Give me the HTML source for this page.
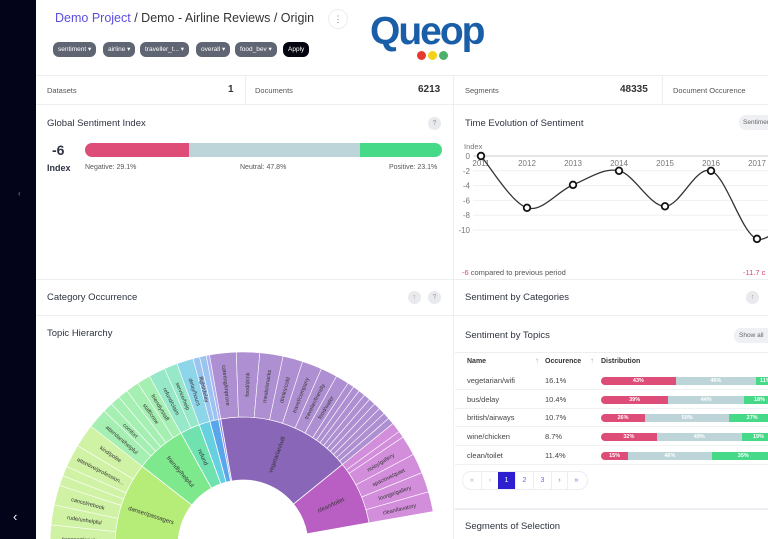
<!DOCTYPE html>
<html><head><meta charset="utf-8">
<style>
*{box-sizing:border-box;margin:0;padding:0}
html{overflow:hidden}
body{width:768px;height:539px;overflow:hidden;background:#fff;font-family:"Liberation Sans",sans-serif;color:#2d3340;position:relative}
.abs{position:absolute}
.sidebar{left:0;top:0;width:36px;height:539px;background:#03031a}
.chip{position:absolute;top:42px;height:15px;border-radius:6px;background:#5f6572;color:#fff;font-size:6.5px;line-height:15px;padding:0 5px;white-space:nowrap}
.lbl{font-size:7.5px;color:#555}
.val{font-size:10px;color:#333;font-weight:bold}
.title{font-size:9.5px;color:#2d3340}
.hline{position:absolute;height:1px;background:#eceef1}
.vline{position:absolute;width:1px;background:#eceef1}
.circ{position:absolute;width:13px;height:13px;border-radius:50%;background:#e8eaee;color:#999;font-size:7px;text-align:center;line-height:13px}
</style></head><body>
<div class="abs sidebar">
  <div class="abs" style="left:18px;top:189px;color:#888;font-size:8px">‹</div>
  <div class="abs" style="left:13px;top:509px;color:#fff;font-size:13px">‹</div>
</div>

<div class="abs" style="left:55px;top:11px;font-size:12.5px;white-space:nowrap"><span style="color:#5a4fe0">Demo Project</span> <span style="color:#333">/ Demo - Airline Reviews / Origin</span></div>
<div class="abs" style="left:328px;top:9px;width:20px;height:20px;border-radius:50%;border:1px solid #eee;font-size:9px;color:#777;text-align:center;line-height:19px">⋮</div>

<div class="chip" style="left:53px">sentiment ▾</div>
<div class="chip" style="left:103px">airline ▾</div>
<div class="chip" style="left:140px">traveller_t... ▾</div>
<div class="chip" style="left:196px">overall ▾</div>
<div class="chip" style="left:235px">food_bev ▾</div>
<div class="chip" style="left:283px;background:#050510">Apply</div>

<div class="abs" style="left:370px;top:10px;width:125px;height:55px">
  <div class="abs" style="left:0;top:0;font-size:39px;font-weight:bold;color:#1a5ea8;letter-spacing:-2px;line-height:44px">Queop</div>
  <div class="abs" style="left:47px;top:41px;width:9px;height:9px;border-radius:50%;background:#e8392f"></div>
  <div class="abs" style="left:58px;top:41px;width:9px;height:9px;border-radius:50%;background:#f4d21a"></div>
  <div class="abs" style="left:69px;top:41px;width:9px;height:9px;border-radius:50%;background:#4caf6a"></div>
</div>

<div class="hline" style="left:36px;top:75px;width:732px"></div>
<div class="hline" style="left:36px;top:104px;width:732px"></div>
<div class="vline" style="left:245px;top:76px;height:28px"></div>
<div class="vline" style="left:453px;top:76px;height:463px"></div>
<div class="vline" style="left:662px;top:76px;height:28px"></div>

<div class="abs lbl" style="left:47px;top:86px">Datasets</div>
<div class="abs val" style="left:228px;top:84px">1</div>
<div class="abs lbl" style="left:255px;top:86px">Documents</div>
<div class="abs val" style="left:418px;top:84px">6213</div>
<div class="abs lbl" style="left:465px;top:86px">Segments</div>
<div class="abs val" style="left:620px;top:84px">48335</div>
<div class="abs lbl" style="left:673px;top:86px;white-space:nowrap">Document Occurence</div>

<div class="abs title" style="left:47px;top:118px">Global Sentiment Index</div>
<div class="circ" style="left:428px;top:117px">?</div>
<div class="abs" style="left:52px;top:142px;font-size:14px;font-weight:bold">-6</div>
<div class="abs" style="left:47px;top:163px;font-size:9px;font-weight:bold">Index</div>
<div class="abs" style="left:85px;top:143px;width:357px;height:14px;border-radius:7px;overflow:hidden;display:flex">
  <div style="width:29.1%;background:#de4c78"></div>
  <div style="width:47.8%;background:#bdd5d8"></div>
  <div style="width:23.1%;background:#46da88"></div>
</div>
<div class="abs" style="left:85px;top:164px;font-size:7px;color:#555">Negative: 29.1%</div>
<div class="abs" style="left:240px;top:164px;font-size:7px;color:#555">Neutral: 47.8%</div>
<div class="abs" style="left:389px;top:164px;font-size:7px;color:#555">Positive: 23.1%</div>

<div class="abs title" style="left:465px;top:118px">Time Evolution of Sentiment</div>
<div class="abs" style="left:739px;top:115px;width:40px;height:15px;border-radius:7px;background:#eef0f3;font-size:6.5px;color:#666;line-height:15px;padding-left:4px">Sentiment</div>
<svg class="abs" style="left:453px;top:135px" width="315" height="143" id="tchart"></svg>

<div class="hline" style="left:36px;top:279px;width:732px"></div>
<div class="hline" style="left:36px;top:315px;width:732px"></div>
<div class="abs title" style="left:47px;top:292px">Category Occurrence</div>
<div class="circ" style="left:408px;top:291px">↑</div>
<div class="circ" style="left:428px;top:291px">?</div>
<div class="abs title" style="left:465px;top:292px">Sentiment by Categories</div>
<div class="circ" style="left:746px;top:291px">↑</div>
<div class="abs title" style="left:47px;top:328px">Topic Hierarchy</div>
<div class="abs title" style="left:465px;top:330px">Sentiment by Topics</div>
<div class="abs" style="left:734px;top:328px;width:34px;height:15px;border-radius:7px 0 0 7px;background:#eef0f3;font-size:6.5px;color:#666;line-height:15px;padding-left:5px;overflow:hidden;white-space:nowrap">Show all</div>

<svg class="abs" style="left:36px;top:340px" width="417" height="199" id="sun"></svg>

<div class="hline" style="left:455px;top:352px;width:313px"></div>
<div class="abs" style="left:467px;top:358px;font-size:7px;font-weight:bold;color:#333">Name</div>
<div class="abs" style="left:535px;top:356px;font-size:8px;color:#aab">↑</div>
<div class="abs" style="left:545px;top:358px;font-size:7px;font-weight:bold;color:#333">Occurence</div>
<div class="abs" style="left:590px;top:356px;font-size:8px;color:#aab">↑</div>
<div class="abs" style="left:601px;top:358px;font-size:7px;font-weight:bold;color:#333">Distribution</div>
<div id="rows"></div>

<div class="abs" style="left:462px;top:471px;height:19px;width:126px;border:1px solid #eceef1;border-radius:9px;display:flex;font-size:7px;color:#6a6ae0;line-height:17px;overflow:hidden">
  <div style="width:18px;text-align:center;color:#aaa">«</div>
  <div style="width:17px;text-align:center;color:#aaa;border-left:1px solid #eee">‹</div>
  <div style="width:17px;text-align:center;background:#2d1fd0;color:#fff">1</div>
  <div style="width:18px;text-align:center;border-left:1px solid #eee">2</div>
  <div style="width:18px;text-align:center;border-left:1px solid #eee">3</div>
  <div style="width:16px;text-align:center;border-left:1px solid #eee">›</div>
  <div style="width:18px;text-align:center;border-left:1px solid #eee">»</div>
</div>
<div class="hline" style="left:455px;top:508px;width:313px;height:2px"></div>
<div class="abs title" style="left:465px;top:521px">Segments of Selection</div>

<script>
var NS="http://www.w3.org/2000/svg";
function mk(tag,attrs,parent){var e=document.createElementNS(NS,tag);for(var k in attrs)e.setAttribute(k,attrs[k]);parent.appendChild(e);return e;}

var years=["2011","2012","2013","2014","2015","2016","2017","2018"];
var sentIndex=[0,-7,-3.9,-2,-6.8,-2,-11.2,-6];
var yTicks=[0,-2,-4,-6,-8,-10];
var ts=document.getElementById('tchart');
function tx(i){return 28+i*46;}
function ty(v){return 21-v*7.4;}
yTicks.forEach(function(t){
  var l=mk('line',{x1:20,x2:315,y1:ty(t),y2:ty(t),stroke:t==0?'#ccc':'#f0f0f0','stroke-width':1},ts);
  
  
  var tt=mk('text',{x:17,y:ty(t)+3,'font-size':8,'text-anchor':'end',fill:'#777'},ts);tt.textContent=t;
  
  
});
var it=mk('text',{x:11,y:14,'font-size':7.5,fill:'#777'},ts);it.textContent='Index';


years.forEach(function(y,i){
  var t=mk('text',{x:tx(i),y:31,'font-size':8,'text-anchor':'middle',fill:'#777'},ts);t.textContent=y;
  
  
});
var pts=sentIndex.map(function(v,i){return [tx(i),ty(v)];});
var d='M'+pts[0][0]+','+pts[0][1];
for(var i=0;i<pts.length-1;i++){
  var p0=pts[i-1]||pts[i],p1=pts[i],p2=pts[i+1],p3=pts[i+2]||p2;
  d+=' C'+(p1[0]+(p2[0]-p0[0])/6)+','+(p1[1]+(p2[1]-p0[1])/6)+' '+(p2[0]-(p3[0]-p1[0])/6)+','+(p2[1]-(p3[1]-p1[1])/6)+' '+p2[0]+','+p2[1];
}
var ln=mk('path',{d:d,fill:'none',stroke:'#333','stroke-width':1.3},ts);


pts.forEach(function(p){
  var c=mk('circle',{cx:p[0],cy:p[1],r:3.3,fill:'#fff',stroke:'#111','stroke-width':1.8},ts);
  
  
});
var f1=mk('text',{x:9,y:140,'font-size':7.5,fill:'#555'},ts);
f1.innerHTML='<tspan fill="#e04070">-6</tspan> compared to previous period';


var f2=mk('text',{x:290,y:140,'font-size':7.5,fill:'#e04070'},ts);f2.textContent='-11.7 c';



var innerNames=["uncomfortable","danser/passagers","friendly/helpful","refund","customer/service","delay/wifi","other","vegetarian/wifi","clean/toilet"];
var innerSpans=[8,40,23,9,5,4,1,61,29];
var innerColors=["#d3e07a","#b6ec78","#7ee98c","#6fe2b0","#66cfe0","#5aa6ea","#8a8af2","#8966b8","#b95fc4"];
var outerColors=["#dbe89c","#d0f2a4","#a6efb2","#97e8c8","#8dd6ea","#9cc4f0","#b0b0f5","#ae90d2","#d28edb"];
var outerSpans=[[3,2,3],[8,6,6,3,3,7,7],[6,3,3,3,4,4],[5,4],[5],[2,2],[1],[8,7,7,6,6,5,4,2,2,2,2,2,2,2,2,2],[3,2,6,6,6,6]];
var outerNames=[["uncomfortable/ennui","",""],["passport/apology","rude/unhelpful","cancel/rebook","","","attentive/profession...","kind/polite"],["attendant/helpful","comfort","","","staff/crew","friendly/staff"],["refund/claim","service/help"],["delay/hours"],["flight/delay",""],[""],["catering/improve","food/drink","meals/snacks","drinks/cold","travel/company","traveller/friendly","food/water","","","","","","","","",""],["","","noisy/gallery","spacious/quiet","lounge/gallery","clean/lavatory"]];
var sun=document.getElementById('sun');
var CX=207,CY=205,R0=65,R1=128,R2=193;
function pol(r,a){var rad=a*Math.PI/180;return [CX+r*Math.cos(rad),CY-r*Math.sin(rad)];}
function arc(r1,r2,a1,a2){
  var p1=pol(r2,a1),p2=pol(r2,a2),p3=pol(r1,a2),p4=pol(r1,a1);
  var lg=(a1-a2)>180?1:0;
  return 'M'+p1+' A'+r2+','+r2+' 0 '+lg+' 1 '+p2+' L'+p3+' A'+r1+','+r1+' 0 '+lg+' 0 '+p4+'Z';
}
function label(txt,r,amid,size,name){
  if(!txt)return;
  var p=pol(r,amid);var rot=-amid;
  if(amid>90)rot=180-amid;
  var t=mk('text',{x:p[0],y:p[1]+2,'font-size':size,'text-anchor':'middle',fill:'#333',transform:'rotate('+rot+' '+p[0]+' '+p[1]+')'},sun);
  t.textContent=txt;
  
  
}
var a=190;
innerSpans.forEach(function(s,i){
  var a1=a,a2=a-s;
  var p=mk('path',{d:arc(R0,R1,a1,a2),fill:innerColors[i],stroke:'#fff','stroke-width':0.8},sun);
  
  
  if(s>=9)label(innerNames[i],(R0+R1)/2,(a1+a2)/2,6,'topic-label');
  var b=a1;
  var tot=outerSpans[i].reduce(function(x,y){return x+y;},0);
  outerSpans[i].forEach(function(os,j){
    var b2=b-os*(a1-a2)/tot;
    var q=mk('path',{d:arc(R1,R2,b,b2),fill:outerColors[i],stroke:'#fff','stroke-width':0.6},sun);
    
    
    label(outerNames[i][j],(R1+R2)/2,(b+b2)/2,5.5,'subtopic-label');
    b=b2;
  });
  a=a2;
});
mk('circle',{cx:CX,cy:CY,r:R0-0.5,fill:'#fff'},sun);

var topicNames=["vegetarian/wifi","bus/delay","british/airways","wine/chicken","clean/toilet"];
var topicOcc=["16.1%","10.4%","10.7%","8.7%","11.4%"];
var negVals=[43,39,26,32,15];
var neuVals=[46,44,50,49,46];
var posVals=[11,18,27,19,35];
var rows=document.getElementById('rows');
topicNames.forEach(function(n,i){
  var y=372+i*18.7;
  var r=document.createElement('div');
  r.className='abs';r.style.cssText='left:455px;top:'+y+'px;width:313px;height:18px;border-bottom:1px solid #f0f1f3;overflow:hidden';
  
  
  r.innerHTML='<div class="abs" style="left:12px;top:4px;font-size:7.5px;color:#444">'+n+'</div><div class="abs" style="left:90px;top:4px;font-size:7.5px;color:#444">'+topicOcc[i]+'</div>';
  var tot=negVals[i]+neuVals[i]+posVals[i];var W=174;
  var bar=document.createElement('div');
  bar.className='abs';bar.style.cssText='left:146px;top:5px;width:'+W+'px;height:8px;border-radius:4px;overflow:hidden;display:flex;font-size:5.5px;color:#fff;font-weight:bold;line-height:8px;text-align:center';
  
  
  [[negVals[i],'#de4c78'],[neuVals[i],'#bdd5d8'],[posVals[i],'#46da88']].forEach(function(v){
    var s=document.createElement('div');
    s.style.cssText='width:'+(v[0]/tot*W)+'px;background:'+v[1];
    s.textContent=v[0]+'%';
    
    
    bar.appendChild(s);
  });
  r.appendChild(bar);
  rows.appendChild(r);
});
</script>
</body></html>
